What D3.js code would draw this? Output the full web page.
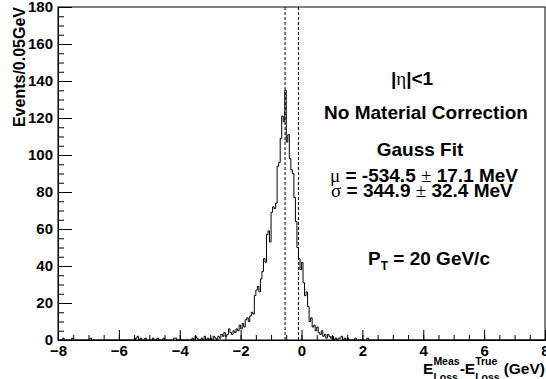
<!DOCTYPE html>
<html>
<head>
<meta charset="utf-8">
<script src="https://cdn.jsdelivr.net/npm/d3@7"></script>
<style>
  body { margin: 0; background: #fff; }
  svg { display: block; font-family: 'Liberation Sans', Arial, sans-serif; font-weight: bold; }
  .sym { font-family: 'Liberation Serif', 'DejaVu Serif', serif; font-weight: normal; }
</style>
</head>
<body>
<div id="chart"></div>
<script>
'use strict';
// histogram: Events / 0.05 GeV, E_loss(meas) - E_loss(true)
const binWidth = 0.05
const xDomain = [-8, 8]
const yDomain = [0, 180]
const coreStart = -3.0 // first bin of the core block
const coreCounts = [
    1, 0, 2, 1, 0, 2, 1, 3, 2, 4,
    2, 3, 6, 4, 3, 5, 4, 6, 5, 8,
    6, 9, 7, 11, 12, 10, 13, 15, 14, 24,
    27, 29, 26, 33, 37, 44, 42, 57, 59, 53,
    69, 72, 71, 74, 94, 96, 109, 121, 118, 135,
    107, 111, 98, 92, 90, 77, 64, 50, 44, 38,
    42, 31, 24, 26, 18, 10, 12, 7, 8, 5,
    7, 4, 3, 5, 2, 3, 1, 3, 2, 1,
    2, 0, 1, 0, 1
]
const tailX = [-7.85, -7.55, -6.95, -5.45, -5.40, -5.30, -5.15, -4.90, -4.75, -4.55, -4.20, -4.15,
    -3.60, -3.50, -3.45, -3.30, -3.20, -3.10, 1.25, 1.30, 1.40, 1.50, 1.75, 2.15]
const tailCounts = [1, 1, 1, 1, 2, 1, 1, 1, 1, 1, 1, 1, 1, 2, 1, 1, 2, 1, 1, 2, 1, 1, 1, 1]
const fitLines = [-0.54, -0.10] // dashed markers
const xMajor = [-8, -6, -4, -2, 0, 2, 4, 6, 8]
const yMajor = [0, 20, 40, 60, 80, 100, 120, 140, 160, 180]

const W = 546, H = 379
const frame = { left: 58, right: 545, top: 7, bottom: 340 }

// put counts into the full bin list
const nBins = Math.round((xDomain[1] - xDomain[0]) / binWidth)
const counts = new Array(nBins).fill(0)
const binIndex = v => Math.round((v - xDomain[0]) / binWidth)
coreCounts.forEach((c, i) => { counts[binIndex(coreStart) + i] = c })
tailX.forEach((v, i) => { counts[binIndex(v)] = tailCounts[i] })
const bins = counts.map((c, i) => ({ x0: xDomain[0] + i * binWidth, n: c }))

const x = d3.scaleLinear().domain(xDomain).range([frame.left, frame.right])
const y = d3.scaleLinear().domain(yDomain).range([frame.bottom, frame.top])

const svg = d3.select('#chart').append('svg')
    .attr('width', W)
    .attr('height', H)

svg.append('rect') // frame
    .attr('x', frame.left)
    .attr('y', frame.top)
    .attr('width', frame.right - frame.left)
    .attr('height', frame.bottom - frame.top)
    .attr('fill', 'none')
    .attr('stroke', '#000')
    .attr('stroke-width', 1)

// dashed fit markers
svg.append('g').selectAll('line')
    .data(fitLines).enter().append('line')
    .attr('x1', d => x(d)).attr('x2', d => x(d))
    .attr('y1', frame.top).attr('y2', frame.bottom)
    .attr('stroke', '#000')
    .attr('stroke-width', 1)
    .attr('stroke-dasharray', '3,2')

// histogram outline
const pts = bins.map(b => [b.x0, b.n])
pts.push([xDomain[1], bins[bins.length - 1].n])
const histLine = d3.line()
    .x(d => x(d[0]))
    .y(d => y(d[1]))
    .curve(d3.curveStepAfter)
svg.append('path')
    .attr('d', histLine(pts))
    .attr('fill', 'none')
    .attr('stroke', '#000')
    .attr('stroke-width', 1)

// x axis, ticks inside
const xMinor = d3.range(-8, 8.01, 0.5)
svg.append('g')
    .attr('transform', `translate(0,${frame.bottom})`)
    .call(d3.axisBottom(x).tickValues(xMinor).tickSize(-5).tickSizeOuter(0).tickFormat(''))
svg.append('g')
    .attr('class', 'xAxis')
    .attr('transform', `translate(0,${frame.bottom})`)
    .call(d3.axisBottom(x).tickValues(xMajor).tickSize(-10).tickSizeOuter(0).tickPadding(5).tickFormat(d3.format('d')))

// y axis, ticks inside
const yMinor = d3.range(0, 181, 5)
svg.append('g')
    .attr('transform', `translate(${frame.left},0)`)
    .call(d3.axisLeft(y).tickValues(yMinor).tickSize(-6).tickSizeOuter(0).tickFormat(''))
svg.append('g')
    .attr('class', 'yAxis')
    .attr('transform', `translate(${frame.left},0)`)
    .call(d3.axisLeft(y).tickValues(yMajor).tickSize(-14).tickSizeOuter(0).tickPadding(5).tickFormat(d3.format('d')))

svg.selectAll('.tick line').attr('stroke', '#000')
svg.selectAll('.domain').attr('stroke', '#000')
svg.selectAll('.xAxis text, .yAxis text')
    .attr('fill', '#000')
    .style('font-family', "'Liberation Sans', Arial, sans-serif")
    .style('font-weight', 'bold')
    .style('font-size', '15px')

// axis titles
svg.append('text')
    .attr('transform', 'translate(25,7) rotate(-90)')
    .attr('text-anchor', 'end')
    .style('font-size', '16px')
    .text('Events/0.05GeV')

// x title laid out piece by piece: E^Meas_Loss - E^True_Loss (GeV)
const xt = svg.append('g')
const base = 374, supY = 365, subY = 381
let cx = 0
function piece(txt, size, yy) {
    const t = xt.append('text').attr('x', cx).attr('y', yy).style('font-size', size + 'px').text(txt)
    return t.node().getComputedTextLength()
}
cx += piece('E', 15.5, base)
let w1 = piece('Meas', 10.5, supY), w2 = piece('Loss', 10.5, subY)
cx += Math.max(w1, w2)
cx += piece('-E', 15.5, base)
w1 = piece('True', 10.5, supY); w2 = piece('Loss', 10.5, subY)
cx += Math.max(w1, w2) + 4
cx += piece('(GeV)', 15.5, base)
xt.attr('transform', `translate(${545 - cx},0)`)

// annotations
const ann = svg.append('g').style('font-size', '19px')
const eta = ann.append('text').attr('x', 412).attr('y', 85).attr('text-anchor', 'middle')
eta.append('tspan').text('|')
eta.append('tspan').attr('class', 'sym').text('η')
eta.append('tspan').text('|<1')
ann.append('text').attr('x', 426).attr('y', 119).attr('text-anchor', 'middle').text('No Material Correction')
ann.append('text').attr('x', 420).attr('y', 156).attr('text-anchor', 'middle').text('Gauss Fit')
const mu = ann.append('text').attr('x', 330).attr('y', 182)
mu.append('tspan').attr('class', 'sym').text('μ')
mu.append('tspan').text(' = -534.5 ')
mu.append('tspan').attr('class', 'sym').text('±')
mu.append('tspan').text(' 17.1 MeV')
const sg = ann.append('text').attr('x', 331).attr('y', 197)
sg.append('tspan').attr('class', 'sym').text('σ')
sg.append('tspan').text(' = 344.9 ')
sg.append('tspan').attr('class', 'sym').text('±')
sg.append('tspan').text(' 32.4 MeV')
const pt = ann.append('text').attr('x', 368).attr('y', 265)
pt.append('tspan').text('P')
pt.append('tspan').attr('dy', 5).style('font-size', '12px').text('T')
pt.append('tspan').attr('dy', -5).text(' = 20 GeV/c')
</script>
</body>
</html>
